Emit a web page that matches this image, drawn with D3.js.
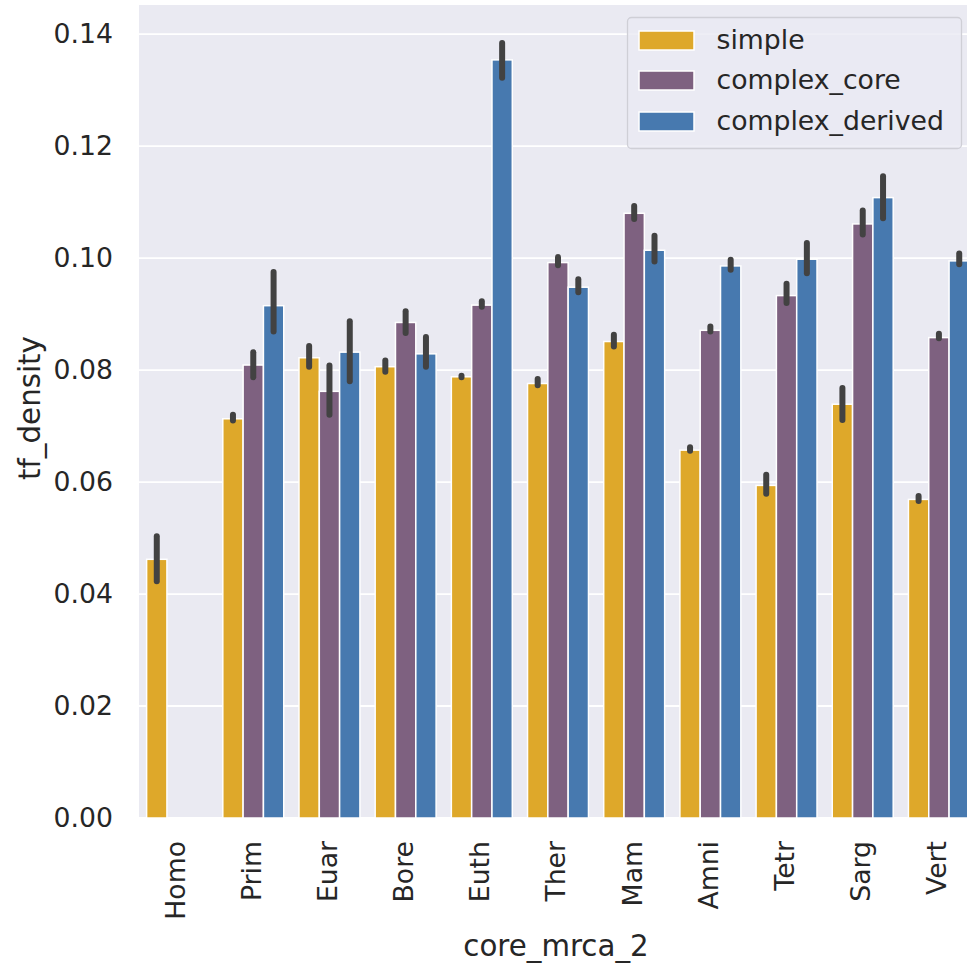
<!DOCTYPE html>
<html><head><meta charset="utf-8">
<script src="https://cdn.jsdelivr.net/npm/d3@7"></script>
<style>body{margin:0;background:#fff}svg{display:block}text{font-family:"DejaVu Sans",sans-serif;fill:#262626}</style>
</head><body>
<script>
const categories = ["Homo","Prim","Euar","Bore","Euth","Ther","Mam","Amni","Tetr","Sarg","Vert"];
const seriesNames = ["simple","complex_core","complex_derived"];
const seriesColors = ["#DEA82A","#7E6180","#4779AF"];
// means
const simpleVals  = [0.0462,0.0713,0.0822,0.0806,0.0788,0.0776,0.0851,0.0657,0.0594,0.0739,0.0569];
const coreVals    = [null,0.0809,0.0762,0.0885,0.0916,0.0992,0.1080,0.0871,0.0933,0.1061,0.0858];
const derivedVals = [null,0.0915,0.0832,0.0829,0.1354,0.0948,0.1014,0.0986,0.0998,0.1108,0.0995];
// confidence intervals (low, high)
const simpleLo  = [0.0423,0.0710,0.0806,0.0797,0.0787,0.0773,0.0842,0.0656,0.0579,0.0711,0.0566];
const simpleHi  = [0.0503,0.0720,0.0843,0.0817,0.0790,0.0784,0.0863,0.0662,0.0613,0.0768,0.0575];
const coreLo    = [null,0.0787,0.0720,0.0866,0.0913,0.0987,0.1070,0.0869,0.0920,0.1042,0.0857];
const coreHi    = [null,0.0832,0.0808,0.0905,0.0923,0.1002,0.1093,0.0878,0.0954,0.1085,0.0865];
const derivedLo = [null,0.0869,0.0780,0.0806,0.1322,0.0939,0.0994,0.0979,0.0973,0.1071,0.0989];
const derivedHi = [null,0.0975,0.0887,0.0859,0.1384,0.0962,0.1040,0.0997,0.1027,0.1146,0.1008];
const yTicks = [0,0.02,0.04,0.06,0.08,0.10,0.12,0.14];
const xLabel = "core_mrca_2", yLabel = "tf_density";

const series = [
  {name: seriesNames[0], vals: simpleVals, lo: simpleLo, hi: simpleHi},
  {name: seriesNames[1], vals: coreVals, lo: coreLo, hi: coreHi},
  {name: seriesNames[2], vals: derivedVals, lo: derivedLo, hi: derivedHi}
];

const W = 967, H = 968;
const L = 139, R = 977, T = 5, B = 818;
const svg = d3.select("body").append("svg").attr("width", W).attr("height", H);
const clip = svg.append("defs").append("clipPath").attr("id","pc");
clip.append("rect").attr("x",L).attr("y",T).attr("width",R-L).attr("height",B-T);

const x = d3.scaleBand().domain(categories).range([L, R]).padding(0);
const y = d3.scaleLinear().domain([0, 0.1452]).range([B, T]);
const color = d3.scaleOrdinal().domain(seriesNames).range(seriesColors);
const inner = d3.scaleBand().domain(seriesNames).range([x.bandwidth()*0.1, x.bandwidth()*0.9]).padding(0);

svg.append("rect").attr("x",L).attr("y",T).attr("width",R-L).attr("height",B-T).attr("fill","#EAEAF2");

const g = svg.append("g").attr("clip-path","url(#pc)");
g.selectAll("line.grid").data(yTicks).join("line")
  .attr("x1",L).attr("x2",R).attr("y1",d=>y(d)).attr("y2",d=>y(d))
  .attr("stroke","#fff").attr("stroke-width",1.8);

series.forEach(s => {
  const rows = categories.map((c,i)=>({c, v:s.vals[i], lo:s.lo[i], hi:s.hi[i]})).filter(d=>d.v!==null);
  g.selectAll(null).data(rows).join("rect")
    .attr("x", d=>x(d.c)+inner(s.name))
    .attr("width", inner.bandwidth())
    .attr("y", d=>y(d.v))
    .attr("height", d=>y(0)-y(d.v))
    .attr("fill", color(s.name))
    .attr("stroke","#fff").attr("stroke-width",1.5);
});
series.forEach(s => {
  const rows = categories.map((c,i)=>({c, v:s.vals[i], lo:s.lo[i], hi:s.hi[i]})).filter(d=>d.v!==null);
  g.selectAll(null).data(rows).join("line")
    .attr("x1", d=>x(d.c)+inner(s.name)+inner.bandwidth()/2)
    .attr("x2", d=>x(d.c)+inner(s.name)+inner.bandwidth()/2)
    .attr("y1", d=>y(d.lo)).attr("y2", d=>y(d.hi))
    .attr("stroke","#424242").attr("stroke-width",6).attr("stroke-linecap","round");
});

// y axis
const yAx = svg.append("g").attr("transform",`translate(${L},0)`)
  .call(d3.axisLeft(y).tickValues(yTicks).tickFormat(d3.format(".2f")).tickSize(0).tickPadding(26));
yAx.select(".domain").remove();
yAx.selectAll("text").attr("font-size",26.7).attr("fill","#262626").attr("font-family","DejaVu Sans");

// x axis
const xAx = svg.append("g").attr("transform",`translate(0,${B})`)
  .call(d3.axisBottom(x).tickSize(0));
xAx.select(".domain").remove();
xAx.selectAll("text").attr("font-size",26.7).attr("fill","#262626").attr("font-family","DejaVu Sans")
  .attr("transform","rotate(-90)").attr("text-anchor","end")
  .attr("x",-23).attr("y",0).attr("dy","0.28em");

svg.append("text").attr("x",(L+R)/2 - 2).attr("y",956).attr("text-anchor","middle")
  .attr("font-size",29.3).text(xLabel);
svg.append("text").attr("transform","translate(40,408) rotate(-90)").attr("text-anchor","middle")
  .attr("font-size",29.3).text(yLabel);

// legend
const lg = svg.append("g");
lg.append("rect").attr("x",627.5).attr("y",17.5).attr("width",334).attr("height",131).attr("rx",4)
  .attr("fill","#EAEAF2").attr("fill-opacity",0.8).attr("stroke","#cfcfd6").attr("stroke-width",1.3);
const lc = [40.5, 80.5, 121.5];
seriesNames.forEach((n,i)=>{
  lg.append("rect").attr("x",639).attr("y",lc[i]-9.5).attr("width",55).attr("height",19)
    .attr("fill",color(n)).attr("stroke","#fff").attr("stroke-width",1.5);
  lg.append("text").attr("x",716.5).attr("y",lc[i]+8.8).attr("font-size",26.7).text(n);
});
</script>
</body></html>
